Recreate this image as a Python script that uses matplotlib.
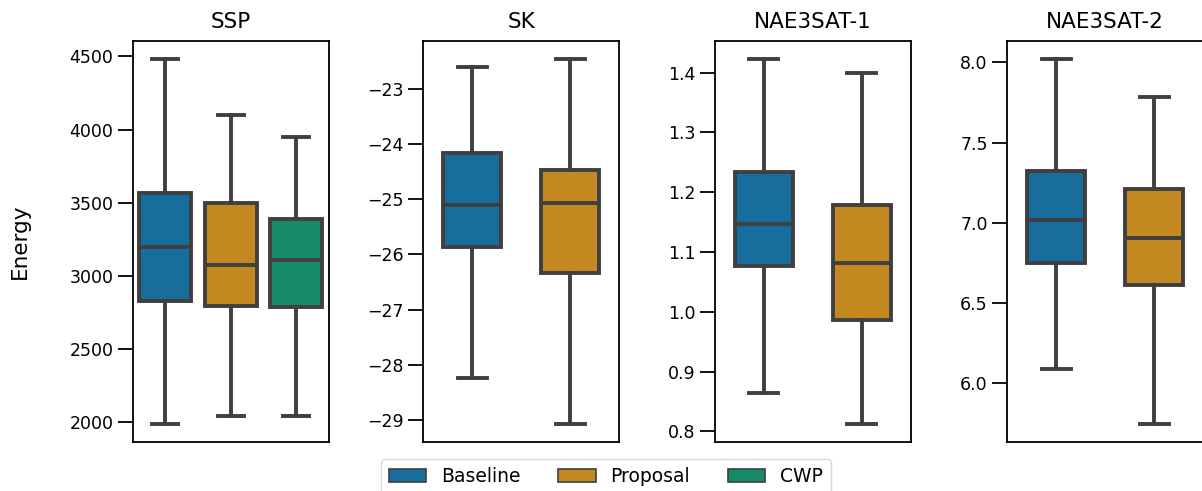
import colorsys
import numpy as np
import matplotlib
matplotlib.use("Agg")
import matplotlib.pyplot as plt
from matplotlib.patches import Patch

# ================== DATA ==================
panels = ["SSP", "SK", "NAE3SAT-1", "NAE3SAT-2"]
methods = ["Baseline", "Proposal", "CWP"]

# each entry: [whisker low, Q1, median, Q3, whisker high]
ssp_baseline = [1986, 2825, 3196, 3564, 4484]
ssp_proposal = [2043, 2795, 3075, 3498, 4098]
ssp_cwp = [2045, 2786, 3109, 3387, 3952]

sk_baseline = [-28.24, -25.86, -25.10, -24.17, -22.61]
sk_proposal = [-29.07, -26.33, -25.07, -24.48, -22.46]

nae1_baseline = [0.865, 1.077, 1.147, 1.2335, 1.423]
nae1_proposal = [0.812, 0.987, 1.081, 1.178, 1.400]

nae2_baseline = [6.089, 6.748, 7.017, 7.321, 8.023]
nae2_proposal = [5.742, 6.612, 6.902, 7.209, 7.786]

panel_data = [
    [ssp_baseline, ssp_proposal, ssp_cwp],
    [sk_baseline, sk_proposal],
    [nae1_baseline, nae1_proposal],
    [nae2_baseline, nae2_proposal],
]


# seaborn-like muted "colorblind" colours
def desat(hex_color, prop=0.75):
    r, g, b = matplotlib.colors.to_rgb(hex_color)
    h, l, s = colorsys.rgb_to_hls(r, g, b)
    return colorsys.hls_to_rgb(h, l, s * prop)


colors = [desat(c) for c in ["#0173b2", "#de8f05", "#029e73"]]
line_col = "#3f3f3f"
lw = 2.8

# ================== FIGURE ==================
fig = plt.figure(figsize=(12.02, 4.91), dpi=100)

lefts = [0.1104, 0.3522, 0.5948, 0.8380]
bottom, height, width = 0.0988, 0.8187, 0.1629

for i, (name, data) in enumerate(zip(panels, panel_data)):
    ax = fig.add_axes([lefts[i], bottom, width, height])
    n = len(data)
    if n == 3:
        pos = [-0.334, 0.0, 0.334]
        bw = 0.265
    else:
        pos = [-0.25, 0.25]
        bw = 0.298

    stats = []
    for d in data:
        stats.append(dict(whislo=d[0], q1=d[1], med=d[2], q3=d[3], whishi=d[4], fliers=[]))

    bp = ax.bxp(stats, positions=pos, widths=bw, patch_artist=True, showfliers=False,
                capwidths=bw / 2,
                boxprops=dict(edgecolor=line_col, linewidth=lw),
                whiskerprops=dict(color=line_col, linewidth=lw),
                capprops=dict(color=line_col, linewidth=lw),
                medianprops=dict(color=line_col, linewidth=lw))
    for patch, c in zip(bp["boxes"], colors):
        patch.set_facecolor(c)

    ax.set_xlim(-0.5, 0.5)
    lo = min(d[0] for d in data)
    hi = max(d[4] for d in data)
    m = 0.05 * (hi - lo)
    ax.set_ylim(lo - m, hi + m)
    ax.set_xticks([])
    ax.set_title(name, fontsize=15.5, pad=9)
    ax.tick_params(axis="y", labelsize=12.5, length=10.5, width=1.3, pad=3.5)
    for sp in ax.spines.values():
        sp.set_linewidth(1.3)

    if i == 0:
        ax.set_ylabel("Energy", fontsize=15.5)
        ax.yaxis.set_label_coords(-0.525, 0.5)

handles = [Patch(facecolor=colors[k], edgecolor=line_col, linewidth=1.2, label=methods[k])
           for k in range(3)]
fig.legend(handles=handles, loc="upper center", bbox_to_anchor=(0.504, 0.0835),
           ncol=3, fontsize=13.5, frameon=True)

fig.savefig("out.png", dpi=100)
